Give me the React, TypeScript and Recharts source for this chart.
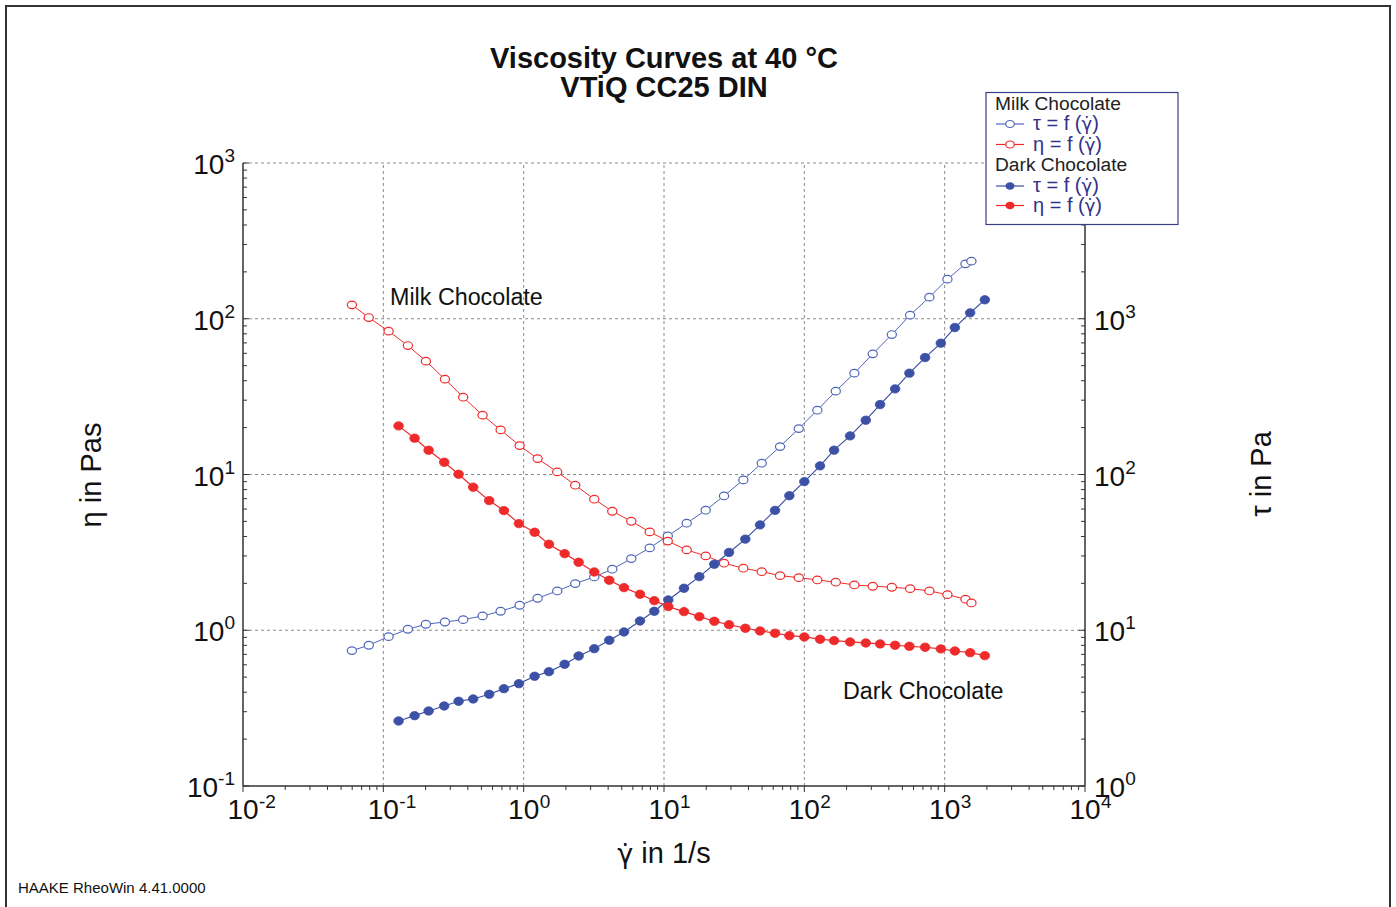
import React from "react";
import { ScatterChart, Scatter, XAxis, YAxis, ReferenceLine } from "recharts";

// shear rate (1/s), viscosity (Pas), shear stress (Pa)
const milkRate = [
  0.0597, 0.0788, 0.109, 0.1496, 0.201, 0.2747, 0.3707, 0.5097, 0.6852, 0.936,
  1.257, 1.735, 2.331, 3.185, 4.279, 5.846, 7.907, 10.64, 14.51, 19.83,
  26.77, 36.76, 49.71, 67.13, 91.25, 123.8, 167.5, 227.3, 307.4, 420.1,
  567.2, 778.5, 1046, 1406, 1551,
];
const milkEta = [
  122.8, 101.8, 83.25, 67.29, 53.42, 40.94, 31.36, 24.04, 19.34, 15.33,
  12.65, 10.39, 8.54, 6.94, 5.81, 5.01, 4.28, 3.735, 3.279, 3.001,
  2.694, 2.502, 2.379, 2.242, 2.176, 2.104, 2.034, 1.954, 1.917, 1.889,
  1.85, 1.788, 1.693, 1.582, 1.497,
];
const milkTau = [
  7.4, 8.01, 9.1, 10.15, 10.93, 11.3, 11.7, 12.36, 13.24, 14.47,
  16.05, 17.88, 19.93, 21.99, 24.65, 28.84, 33.78, 40.34, 48.67, 58.98,
  72.88, 92.33, 118.2, 151.1, 197.1, 258.8, 342.8, 447.3, 595.1, 791.5,
  1055, 1376, 1796, 2252, 2344,
];
const darkRate = [
  0.1284, 0.167, 0.2102, 0.2715, 0.3439, 0.4369, 0.5681, 0.7232, 0.9252, 1.197,
  1.514, 1.959, 2.465, 3.185, 4.074, 5.186, 6.743, 8.527, 10.73, 13.88,
  17.85, 22.83, 29.06, 37.98, 48.34, 61.83, 78.2, 100.0, 129.4, 162.9,
  211.8, 274.1, 346.6, 443.4, 560.7, 725.5, 938.9, 1182, 1519, 1933,
];
const darkEta = [
  20.52, 17.11, 14.32, 11.99, 10.04, 8.29, 6.8, 5.865, 4.838, 4.26,
  3.567, 3.105, 2.734, 2.368, 2.095, 1.878, 1.703, 1.549, 1.418, 1.317,
  1.223, 1.142, 1.086, 1.03, 0.99, 0.957, 0.923, 0.906, 0.876, 0.858,
  0.841, 0.829, 0.817, 0.801, 0.789, 0.778, 0.759, 0.736, 0.718, 0.687,
];
const darkTau = [
  2.615, 2.828, 3.032, 3.265, 3.499, 3.621, 3.882, 4.217, 4.54, 5.064,
  5.422, 6.048, 6.839, 7.616, 8.627, 9.752, 11.47, 13.24, 15.65, 18.61,
  22.09, 26.54, 31.6, 38.47, 47.47, 58.83, 73.09, 90.04, 113.6, 143.3,
  177.0, 223.2, 281.2, 354.6, 447.3, 563.3, 697.1, 878.0, 1091, 1323,
];

const xDecades = [0.01, 0.1, 1, 10, 100, 1000, 10000];
const etaDecades = [0.1, 1, 10, 100, 1000];
const tauDecades = [1, 10, 100, 1000, 10000];

const RED = "#ee2a2a";
const BLUE = "#3c51a6";
const BLUE_OPEN = "#4f66b8";
const FONT = "'Liberation Sans', Arial, sans-serif";
const GAMMA_DOT = "γ\u0307";

const withMinors = (decades: number[]) => {
  const out: number[] = [];
  decades.forEach((d, i) => {
    out.push(d);
    if (i < decades.length - 1) for (let k = 2; k <= 9; k++) out.push(d * k);
  });
  return out;
};

const isDecade = (v: number) => Math.abs(Math.log10(v) - Math.round(Math.log10(v))) < 1e-6;
const expOf = (v: number) => String(Math.round(Math.log10(v)));

const pts = (xs: number[], ys: number[]) => xs.map((x, i) => ({ x, y: ys[i] }));

function XTick({ x, y, payload }: any) {
  const v = payload.value;
  const major = isDecade(v);
  return (
    <g>
      <line x1={x} y1={y} x2={x} y2={y + (major ? 6 : 4)} stroke="#333" />
      {major && (
        <g fontFamily={FONT} fill="#111">
          <text x={x} y={y + 33} textAnchor="middle" fontSize={28}>10</text>
          <text x={x + 16} y={y + 22} fontSize={19}>{expOf(v)}</text>
        </g>
      )}
    </g>
  );
}

function LeftTick({ x, y, payload }: any) {
  const v = payload.value;
  const major = isDecade(v);
  return (
    <g>
      <line x1={x} y1={y} x2={x + (major ? 6 : 4)} y2={y} stroke="#333" />
      {major && (
        <text x={x - 8} y={y + 11} textAnchor="end" fontFamily={FONT} fill="#111" fontSize={28}>
          10<tspan fontSize={19} dy={-12}>{expOf(v)}</tspan>
        </text>
      )}
    </g>
  );
}

// the top label of the stress axis sits under the legend box in the original
function RightTick({ x, y, payload }: any) {
  const v = payload.value;
  const major = isDecade(v);
  const showLabel = major && v < 10000;
  return (
    <g>
      <line x1={x} y1={y} x2={x - (major ? 6 : 4)} y2={y} stroke="#333" />
      {showLabel && (
        <text x={x + 9} y={y + 11} fontFamily={FONT} fill="#111" fontSize={28}>
          10<tspan fontSize={19} dy={-12}>{expOf(v)}</tspan>
        </text>
      )}
    </g>
  );
}

const openDot = (color: string) => (p: any) => (
  <ellipse cx={p.cx} cy={p.cy} rx={4.6} ry={3.8} fill="#fff" stroke={color} strokeWidth={1.2} />
);
const fullDot = (color: string) => (p: any) => (
  <ellipse cx={p.cx} cy={p.cy} rx={4.8} ry={4.2} fill={color} stroke={color} strokeWidth={0.8} />
);

function LegendRow({ y, color, open, sym }: { y: number; color: string; open: boolean; sym: string }) {
  return (
    <g>
      <line x1={996} y1={y} x2={1024} y2={y} stroke={color} strokeWidth={1.2} />
      {open ? (
        <ellipse cx={1010} cy={y} rx={4.3} ry={3.5} fill="#fff" stroke={color} strokeWidth={1.2} />
      ) : (
        <ellipse cx={1010} cy={y} rx={4.5} ry={3.8} fill={color} />
      )}
      <text x={1033} y={y + 6} fontSize={20} fill="#32328a">
        {sym} = f (<tspan fontFamily="'DejaVu Sans'" fontSize={18}>{GAMMA_DOT}</tspan>)
      </text>
    </g>
  );
}

export default function App() {
  const xTicks = withMinors(xDecades);
  const etaTicks = withMinors(etaDecades);
  const tauTicks = withMinors(tauDecades);

  return (
    <div style={{ position: "absolute", left: 0, top: 0, width: 1396, height: 907, background: "#fff" }}>
      <ScatterChart width={1396} height={907} margin={{ top: 163, right: 0, bottom: 0, left: 0 }}>
        {xDecades.slice(1, -1).map((v) => (
          <ReferenceLine key={"gx" + v} x={v} yAxisId="eta" stroke="#8a8a8a" strokeDasharray="3 3" />
        ))}
        {etaDecades.slice(1).map((v) => (
          <ReferenceLine key={"gy" + v} y={v} yAxisId="eta" stroke="#8a8a8a" strokeDasharray="3 3" />
        ))}
        <XAxis
          dataKey="x"
          type="number"
          scale="log"
          domain={[0.01, 10000]}
          ticks={xTicks}
          interval={0}
          tickSize={0}
          tickMargin={0}
          tickLine={false}
          tick={(p: any) => <XTick {...p} />}
          axisLine={{ stroke: "#333", strokeWidth: 1.5 }}
          height={121}
          allowDataOverflow
        />
        <YAxis
          yAxisId="eta"
          dataKey="y"
          orientation="left"
          type="number"
          scale="log"
          domain={[0.1, 1000]}
          ticks={etaTicks}
          interval={0}
          tickSize={0}
          tickMargin={0}
          tickLine={false}
          tick={(p: any) => <LeftTick {...p} />}
          axisLine={{ stroke: "#333", strokeWidth: 1.5 }}
          width={243}
          allowDataOverflow
        />
        <YAxis
          yAxisId="tau"
          dataKey="y"
          orientation="right"
          type="number"
          scale="log"
          domain={[1, 10000]}
          ticks={tauTicks}
          interval={0}
          tickSize={0}
          tickMargin={0}
          tickLine={false}
          tick={(p: any) => <RightTick {...p} />}
          axisLine={{ stroke: "#333", strokeWidth: 1.5 }}
          width={311}
          allowDataOverflow
        />
        <Scatter
          name="Milk τ"
          yAxisId="tau"
          data={pts(milkRate, milkTau)}
          line={{ stroke: BLUE_OPEN, strokeWidth: 1 }}
          shape={openDot(BLUE_OPEN)}
          isAnimationActive={false}
        />
        <Scatter
          name="Milk η"
          yAxisId="eta"
          data={pts(milkRate, milkEta)}
          line={{ stroke: RED, strokeWidth: 1 }}
          shape={openDot(RED)}
          isAnimationActive={false}
        />
        <Scatter
          name="Dark τ"
          yAxisId="tau"
          data={pts(darkRate, darkTau)}
          line={{ stroke: BLUE, strokeWidth: 1.2 }}
          shape={fullDot(BLUE)}
          isAnimationActive={false}
        />
        <Scatter
          name="Dark η"
          yAxisId="eta"
          data={pts(darkRate, darkEta)}
          line={{ stroke: RED, strokeWidth: 1.2 }}
          shape={fullDot(RED)}
          isAnimationActive={false}
        />
      </ScatterChart>

      <svg
        width={1396}
        height={907}
        style={{ position: "absolute", left: 0, top: 0, pointerEvents: "none" }}
        fontFamily={FONT}
      >
        <rect x={6} y={6} width={1384} height={940} fill="none" stroke="#333" strokeWidth={2} />

        <text x={664} y={68} textAnchor="middle" fontSize={29} fontWeight="bold" fill="#111">
          Viscosity Curves at 40 °C
        </text>
        <text x={664} y={97} textAnchor="middle" fontSize={29} fontWeight="bold" fill="#111">
          VTiQ CC25 DIN
        </text>

        <text x={101} y={475} textAnchor="middle" fontSize={29} fill="#111" transform="rotate(-90 101 475)">
          η in Pas
        </text>
        <text x={1271} y={474} textAnchor="middle" fontSize={29} fill="#111" transform="rotate(-90 1271 474)">
          τ in Pa
        </text>
        <text x={664} y={863} textAnchor="middle" fontSize={29} fill="#111">
          <tspan fontFamily="'DejaVu Sans'" fontSize={27}>{GAMMA_DOT}</tspan> in 1/s
        </text>

        <text x={390} y={305} fontSize={23.3} fill="#111">Milk Chocolate</text>
        <text x={843} y={699} fontSize={23.3} fill="#111">Dark Chocolate</text>

        <text x={18} y={893} fontSize={15} fill="#111">
          HAAKE RheoWin 4.41.0000
        </text>

        <rect x={986} y={92.5} width={192} height={132} fill="#fff" stroke="#3c3c8c" strokeWidth={1.2} />
        <text x={995} y={110} fontSize={19.2} fill="#222">Milk Chocolate</text>
        <LegendRow y={124} color={BLUE_OPEN} open sym="τ" />
        <LegendRow y={144.5} color={RED} open sym="η" />
        <text x={995} y={171} fontSize={19.2} fill="#222">Dark Chocolate</text>
        <LegendRow y={186} color={BLUE} open={false} sym="τ" />
        <LegendRow y={205.5} color={RED} open={false} sym="η" />
      </svg>
    </div>
  );
}
